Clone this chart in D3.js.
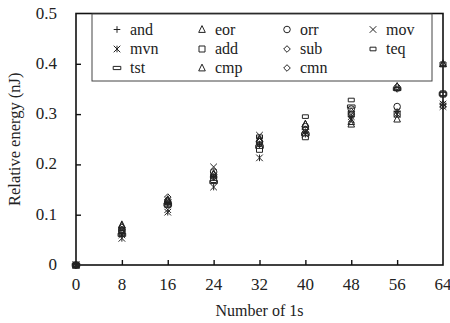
<!DOCTYPE html>
<html>
<head>
<meta charset="utf-8">
<script src="https://cdn.jsdelivr.net/npm/d3@7"></script>
</head>
<body style="margin:0">
<script>
const onesCount = [0, 8, 16, 24, 32, 40, 48, 56, 64];
const yTicks = [0, 0.1, 0.2, 0.3, 0.4, 0.5];

const andValues = [0, 0.062, 0.120, 0.175, 0.240, 0.265, 0.295, 0.305, 0.320];
const eorValues = [0, 0.080, 0.130, 0.180, 0.250, 0.280, 0.280, 0.290, 0.400];
const orrValues = [0, 0.070, 0.125, 0.185, 0.245, 0.275, 0.310, 0.315, 0.340];
const movValues = [0, 0.060, 0.110, 0.195, 0.258, 0.265, 0.295, 0.305, 0.320];
const mvnValues = [0, 0.053, 0.105, 0.155, 0.213, 0.260, 0.290, 0.300, 0.315];
const addValues = [0, 0.065, 0.120, 0.170, 0.230, 0.255, 0.300, 0.300, 0.340];
const subValues = [0, 0.075, 0.135, 0.180, 0.245, 0.270, 0.305, 0.355, 0.320];
const teqValues = [0, 0.065, 0.125, 0.175, 0.255, 0.295, 0.328, 0.350, 0.400];
const tstValues = [0, 0.060, 0.120, 0.165, 0.235, 0.260, 0.315, 0.350, 0.340];
const cmpValues = [0, 0.078, 0.128, 0.182, 0.248, 0.280, 0.285, 0.355, 0.400];
const cmnValues = [0, 0.070, 0.130, 0.175, 0.240, 0.270, 0.300, 0.350, 0.315];

const series = [
  { name: 'and', values: andValues, marker: 'plus' },
  { name: 'eor', values: eorValues, marker: 'triangle' },
  { name: 'orr', values: orrValues, marker: 'circle' },
  { name: 'mov', values: movValues, marker: 'cross' },
  { name: 'mvn', values: mvnValues, marker: 'asterisk' },
  { name: 'add', values: addValues, marker: 'square' },
  { name: 'sub', values: subValues, marker: 'diamond' },
  { name: 'teq', values: teqValues, marker: 'smallRect' },
  { name: 'tst', values: tstValues, marker: 'flatRect' },
  { name: 'cmp', values: cmpValues, marker: 'triangle' },
  { name: 'cmn', values: cmnValues, marker: 'diamond' },
];

const width = 450;
const height = 323;
const margin = { top: 13.5, right: 7, bottom: 58, left: 76 };

const svg = d3.select('body')
  .append('svg')
  .attr('width', width)
  .attr('height', height)
  .style('display', 'block');

const x = d3.scaleLinear()
  .domain([0, 64])
  .range([margin.left, width - margin.right]);

const y = d3.scaleLinear()
  .domain([0, 0.5])
  .range([height - margin.bottom, margin.top]);

// marker paths, centred on 0,0
function markerPath(kind) {
  const r = 3.3;
  switch (kind) {
    case 'plus': return `M${-r},0H${r}M0,${-r}V${r}`;
    case 'cross': return `M${-r},${-r}L${r},${r}M${-r},${r}L${r},${-r}`;
    case 'asterisk': return `M${-r},${-r}L${r},${r}M${-r},${r}L${r},${-r}M0,${-r}V${r}`;
    case 'triangle': return `M0,${-r - 0.6}L${r},${r - 0.4}H${-r}Z`;
    case 'square': return `M${-r + 0.3},${-r + 0.3}H${r - 0.3}V${r - 0.3}H${-r + 0.3}Z`;
    case 'diamond': return `M0,${-r}L${r},0L0,${r}L${-r},0Z`;
    case 'smallRect': return 'M-3,-1.8H3V1.8H-3Z';
    case 'flatRect': return 'M-3.8,-1.6H3.8V1.6H-3.8Z';
    case 'circle': return d3.symbol(d3.symbolCircle, 34)();
  }
  return '';
}

// frame
svg.append('rect')
  .attr('x', x(0))
  .attr('y', y(0.5))
  .attr('width', x(64) - x(0))
  .attr('height', y(0) - y(0.5))
  .attr('fill', 'none')
  .attr('stroke', '#111')
  .attr('stroke-width', 1.6);

// y axis (ticks inside)
const yAxis = svg.append('g')
  .attr('transform', `translate(${x(0)},0)`)
  .call(d3.axisRight(y).tickValues(yTicks.slice(1, -1)).tickSize(5).tickFormat(''));
yAxis.select('.domain').remove();
yAxis.selectAll('line').attr('stroke', '#111').attr('stroke-width', 1.4);

svg.append('g')
  .selectAll('text')
  .data(yTicks)
  .join('text')
  .attr('x', x(0) - 19)
  .attr('y', d => y(d) + 5)
  .attr('text-anchor', 'end')
  .style('font-family', "'Liberation Serif'")
  .style('font-size', '17px')
  .attr('fill', '#222')
  .text(d => d3.format('~g')(d));

// x axis (ticks inside)
const xAxis = svg.append('g')
  .attr('transform', `translate(0,${y(0)})`)
  .call(d3.axisTop(x).tickValues(onesCount.slice(1, -1)).tickSize(5).tickFormat(''));
xAxis.select('.domain').remove();
xAxis.selectAll('line').attr('stroke', '#111').attr('stroke-width', 1.4);

svg.append('g')
  .selectAll('text')
  .data(onesCount)
  .join('text')
  .attr('x', d => x(d))
  .attr('y', y(0) + 25)
  .attr('text-anchor', 'middle')
  .style('font-family', "'Liberation Serif'")
  .style('font-size', '17px')
  .attr('fill', '#222')
  .text(d => d);

// axis titles
svg.append('text')
  .attr('x', (x(0) + x(64)) / 2)
  .attr('y', 316)
  .attr('text-anchor', 'middle')
  .style('font-family', "'Liberation Serif'")
  .style('font-size', '16px')
  .attr('fill', '#222')
  .text('Number of 1s');

svg.append('text')
  .attr('transform', `translate(20,${(y(0) + y(0.5)) / 2}) rotate(-90)`)
  .attr('text-anchor', 'middle')
  .style('font-family', "'Liberation Serif'")
  .style('font-size', '16.5px')
  .attr('fill', '#222')
  .text('Relative energy (nJ)');

// data markers
const points = svg.append('g')
  .attr('fill', 'none')
  .attr('stroke', '#222')
  .attr('stroke-width', 1);

series.forEach(s => {
  points.append('g')
    .selectAll('path')
    .data(s.values.map((v, i) => ({ xv: onesCount[i], yv: v })))
    .join('path')
    .attr('transform', d => `translate(${x(d.xv)},${y(d.yv)})`)
    .attr('d', markerPath(s.marker));
});

// legend
const legend = svg.append('g');
legend.append('rect')
  .attr('x', 92)
  .attr('y', 14)
  .attr('width', 340)
  .attr('height', 67)
  .attr('fill', '#fff')
  .attr('stroke', '#444')
  .attr('stroke-width', 1);

const colX = [117, 202, 287, 373];
const rowY = [29.5, 49, 68];

series.forEach((s, i) => {
  const cx = colX[i % 4];
  const cy = rowY[Math.floor(i / 4)];
  legend.append('path')
    .attr('transform', `translate(${cx},${cy})`)
    .attr('d', markerPath(s.marker))
    .attr('fill', 'none')
    .attr('stroke', '#222')
    .attr('stroke-width', 1);
  legend.append('text')
    .attr('x', cx + 13)
    .attr('y', cy + 5)
    .style('font-family', "'Liberation Serif'")
    .style('font-size', '16px')
    .attr('fill', '#222')
    .text(s.name);
});
</script>
</body>
</html>
